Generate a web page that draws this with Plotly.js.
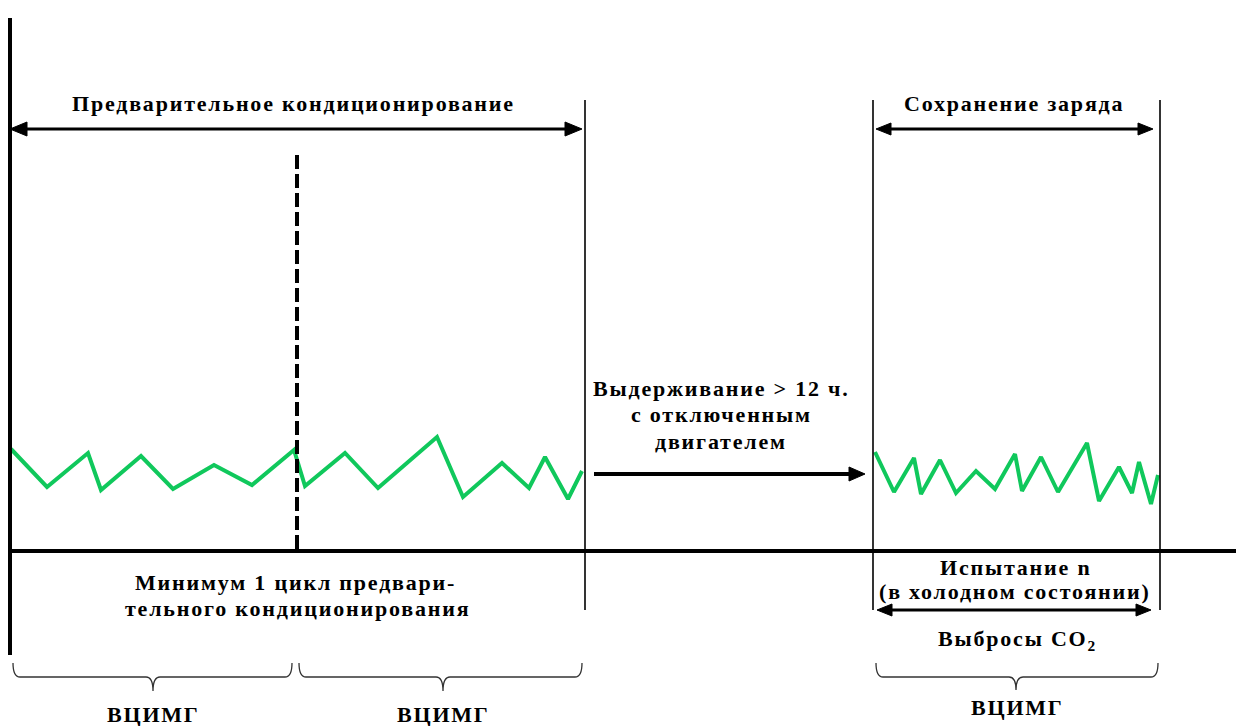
<!DOCTYPE html>
<html>
<head>
<meta charset="utf-8">
<script src="https://cdn.plot.ly/plotly-3.0.1.min.js"></script>
<style>
  html, body { margin: 0; padding: 0; background: #fff; }
  #chart { width: 1236px; height: 726px; }
  .annotation-text { letter-spacing: 1.8px; }
</style>
</head>
<body>
<div id="chart"></div>
<script>
// ---- Data (diagram units: horizontal = time, vertical = drawing units, downward positive) ----
const precondTime   = [11, 47, 88, 101, 141, 173, 214, 252, 294, 305, 345, 378, 437, 463, 502, 529, 545, 568, 582];
const precondSignal = [449, 487, 453, 490, 456, 489, 465, 485, 450, 486, 453, 488, 437, 497, 463, 488, 457, 499, 471];
const testTime      = [875, 894, 914, 921, 940, 956, 976, 995, 1015, 1022, 1041, 1058, 1087, 1099, 1119, 1132, 1139, 1151, 1158];
const testSignal    = [452, 492, 458, 494, 460, 493, 471, 489, 454, 491, 457, 492, 443, 501, 467, 493, 462, 504, 475];

const phaseLabels  = ['Предварительное кондиционирование', 'Сохранение заряда'];
const soakLabel    = ['Выдерживание > 12 ч.', 'с отключенным', 'двигателем'];
const cycleLabel   = ['Минимум 1 цикл предвари-', 'тельного кондиционирования'];
const testLabel    = ['Испытание n', '(в холодном состоянии)'];
const emissionText = 'Выбросы CO<sub>2</sub>';
const cycleNames   = ['ВЦИМГ', 'ВЦИМГ', 'ВЦИМГ'];

// ---- Drawing helpers ----
const BLACK = '#000';
const GREEN = '#10c85c';
const shapes = [];
function line(x0, y0, x1, y1, w, dash, color) {
  shapes.push({type: 'line', xref: 'x', yref: 'y', x0, y0, x1, y1,
    line: {color: color || BLACK, width: w, dash: dash || 'solid'}});
}
function head(xTip, y, dir, len, half) {
  const xb = xTip - dir * len;
  shapes.push({type: 'path', xref: 'x', yref: 'y',
    path: `M ${xTip},${y} L ${xb},${y - half} L ${xb},${y + half} Z`,
    fillcolor: BLACK, line: {color: BLACK, width: 1}});
}
function arrow(xa, xb, y, w, both, len, half) {
  line(both ? xa + len * 0.7 : xa, y, xb - len * 0.7, y, w);
  head(xb, y, 1, len, half);
  if (both) head(xa, y, -1, len, half);
}
function brace(x0, x1, c, yTop, yMid, yTip) {
  const r = 7;
  const p = `M ${x0},${yTop} Q ${x0},${yMid} ${x0 + r},${yMid} L ${c - r},${yMid} ` +
            `Q ${c},${yMid} ${c},${yTip} Q ${c},${yMid} ${c + r},${yMid} ` +
            `L ${x1 - r},${yMid} Q ${x1},${yMid} ${x1},${yTop}`;
  shapes.push({type: 'path', xref: 'x', yref: 'y', path: p,
    line: {color: '#333', width: 1.3}});
}

// axes
line(10, 18, 10, 655, 4);
line(10, 551, 1236, 551, 4);
// dashed separator
line(297, 155, 297, 551, 4, '14px,5px');
// phase boundaries
line(585, 100, 585, 610, 1.6);
line(873, 100, 873, 610, 1.6);
line(1160, 100, 1160, 610, 1.6);
// arrows
arrow(10, 582, 129, 3, true, 17, 7);
arrow(876, 1153, 129, 3, true, 15, 6);
arrow(594, 865, 474, 4, false, 16, 7);
arrow(877, 1151, 610, 3, true, 15, 6);
// braces
brace(13, 292, 153, 663, 677, 691);
brace(299, 582, 443, 663, 677, 691);
brace(876, 1158, 1016, 663, 677, 690);

// ---- Annotations ----
const FONT = {family: 'Liberation Serif, Times New Roman, serif', size: 22, color: BLACK};
const annotations = [];
function txt(x, y, text) {
  annotations.push({xref: 'x', yref: 'y', x, y, text: '<b>' + text + '</b>', showarrow: false,
    xanchor: 'center', yanchor: 'middle', font: FONT});
}
txt(293, 103, phaseLabels[0]);
txt(1014, 103, phaseLabels[1]);
txt(721, 388, soakLabel[0]);
txt(721, 414, soakLabel[1]);
txt(721, 441, soakLabel[2]);
txt(295, 582, cycleLabel[0]);
txt(297, 608, cycleLabel[1]);
txt(1015, 567, testLabel[0]);
txt(1015, 591, testLabel[1]);
txt(1017, 640, emissionText);
txt(153, 714, cycleNames[0]);
txt(443, 714, cycleNames[1]);
txt(1017, 707, cycleNames[2]);

const traces = [
  {x: precondTime, y: precondSignal, type: 'scatter', mode: 'lines',
   line: {color: GREEN, width: 4, shape: 'linear'}, hoverinfo: 'skip'},
  {x: testTime, y: testSignal, type: 'scatter', mode: 'lines',
   line: {color: GREEN, width: 4, shape: 'linear'}, hoverinfo: 'skip'}
];

const layout = {
  width: 1236, height: 726,
  margin: {l: 0, r: 0, t: 0, b: 0, pad: 0},
  paper_bgcolor: '#fff', plot_bgcolor: '#fff',
  showlegend: false,
  xaxis: {range: [0, 1236], visible: false, fixedrange: true},
  yaxis: {range: [726, 0], visible: false, fixedrange: true},
  shapes, annotations
};

Plotly.newPlot('chart', traces, layout, {staticPlot: true, displayModeBar: false});
</script>
</body>
</html>
